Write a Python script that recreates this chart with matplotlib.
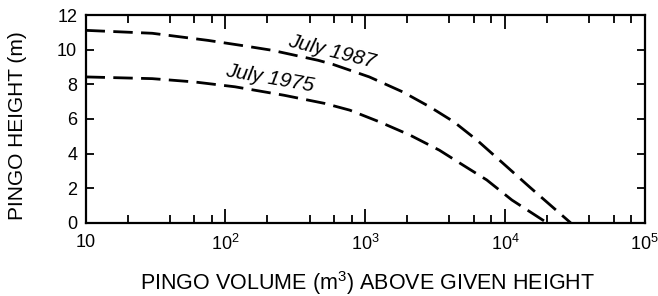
import matplotlib
matplotlib.use("Agg")
import matplotlib.pyplot as plt
from matplotlib.ticker import FixedLocator, FixedFormatter

plt.rcParams['font.family'] = ['Liberation Sans', 'DejaVu Sans']
plt.rcParams['mathtext.fontset'] = 'custom'
plt.rcParams['mathtext.rm'] = 'Liberation Sans'
plt.rcParams['mathtext.it'] = 'Liberation Sans:italic'
plt.rcParams['lines.scale_dashes'] = False

# Data
vol_1987 = [10, 30, 75, 130, 215, 460, 590, 1070, 1860, 2900, 4300, 6300, 9500, 15000, 29500]
h_1987 = [11.12, 10.95, 10.54, 10.25, 9.97, 9.39, 9.15, 8.43, 7.56, 6.70, 5.84, 4.78, 3.50, 2.07, 0.0]
vol_1975 = [10, 30, 60, 117, 263, 513, 776, 1260, 2090, 3390, 5000, 7400, 11200, 20000]
h_1975 = [8.43, 8.33, 8.14, 7.86, 7.37, 6.90, 6.51, 5.84, 5.07, 4.20, 3.34, 2.48, 1.32, 0.0]

x_major = [10, 100, 1000, 10000, 100000]
x_major_labels = ["10", "$10^2$", "$10^3$", "$10^4$", "$10^5$"]
x_minor = [m * d for d in [10, 100, 1000, 10000] for m in [2, 4, 6, 8]]
y_ticks = [0, 2, 4, 6, 8, 10, 12]

fig = plt.figure(figsize=(6.58, 2.96), dpi=100)
ax = fig.add_axes([0.130, 0.247, 0.850, 0.702])

for v, h in [(vol_1987, h_1987), (vol_1975, h_1975)]:
    ax.plot(v, h, color='black', lw=2.0, dashes=(14, 6),
            dash_capstyle='butt', dash_joinstyle='round')

ax.set_xscale('log')
ax.set_xlim(10, 100000)
ax.set_ylim(0, 12)
ax.xaxis.set_major_locator(FixedLocator(x_major))
ax.xaxis.set_major_formatter(FixedFormatter(x_major_labels))
ax.xaxis.set_minor_locator(FixedLocator(x_minor))
ax.xaxis.set_minor_formatter(FixedFormatter([""] * len(x_minor)))
ax.set_yticks(y_ticks)
ax.set_yticklabels([str(t) for t in y_ticks])

ax.tick_params(axis='x', which='major', direction='in', length=10, width=1.3,
               top=True, bottom=True, labelsize=13, pad=8)
ax.tick_params(axis='x', which='minor', direction='in', length=5.5, width=1.3,
               top=True, bottom=True)
ax.tick_params(axis='y', which='major', direction='in', length=6, width=1.3,
               left=True, right=True, labelsize=13, pad=6)
for s in ax.spines.values():
    s.set_linewidth(1.6)

ax.text(10**2.76, 9.9, "July 1987", fontsize=15, style='italic',
        rotation=-14, ha='center', va='center')
ax.text(10**2.32, 8.35, "July 1975", fontsize=15, style='italic',
        rotation=-10, ha='center', va='center')

fig.text(368 / 658, 1 - 283 / 296, "PINGO VOLUME (m$^3$) ABOVE GIVEN HEIGHT",
         fontsize=15.5, ha='center', va='center')
fig.text(18 / 658, 1 - 126 / 296, "PINGO HEIGHT (m)", fontsize=15,
         rotation=90, ha='center', va='center')

fig.savefig("out.png", dpi=100)
